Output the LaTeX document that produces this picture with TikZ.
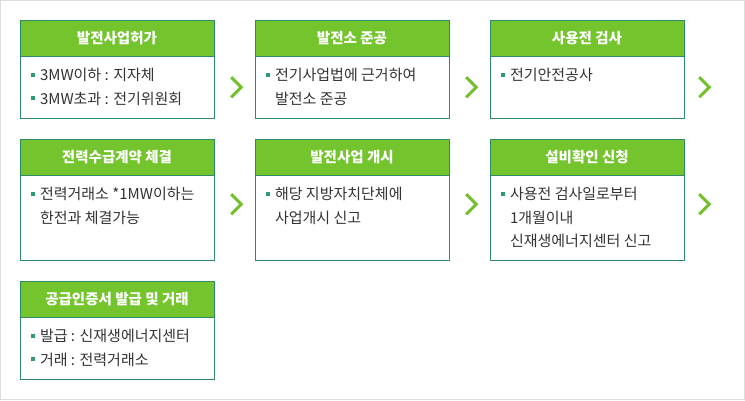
\documentclass[tikz,border=0pt]{standalone}
\usepackage{fontspec}
\setmainfont{Noto Sans CJK KR}
\usepackage{xcolor}
\usepackage{tikz}
\usetikzlibrary{positioning,calc}
\definecolor{headgreen}{HTML}{74C42E}
\definecolor{edgegreen}{HTML}{2F8A66}
\definecolor{dotgreen}{HTML}{2E9C6E}
\definecolor{chevgreen}{HTML}{72C02C}
\definecolor{bodytext}{HTML}{333333}
\definecolor{framegray}{HTML}{DDDDDD}
\newcommand\blt{\textcolor{dotgreen}{\rule[4pt]{4pt}{4pt}}\hspace{5pt}}
\newcommand\contline{\hspace*{9pt}}

\begin{document}
\begin{tikzpicture}[x=1pt, y=-1pt, head/.style={draw=edgegreen, fill=headgreen, minimum width=194pt, minimum height=36pt, inner sep=0pt, text=white, font=\fontsize{14.5}{16}\selectfont\bfseries}, body/.style={draw=edgegreen, fill=white, minimum width=194pt, inner sep=0pt, anchor=north}, itemtext/.style={anchor=north west, inner sep=0pt, align=left, text=bodytext, font=\fontsize{15}{23.5}\selectfont}, chev/.style={draw=chevgreen, line width=3pt, line join=miter}]
\useasboundingbox (0,0) rectangle (745,400);
\draw[framegray, line width=1pt] (0.5,0.5) rectangle (744.5,399.5);
% first row
\node[head] (h1) at (117,38) {발전사업허가};
\node[body, minimum height=62pt] (b1) at (h1.south) {};
\node[itemtext] (t1) at ([xshift=11pt,yshift=-12pt]b1.north west) {\blt 3MW이하 : 지자체\\\blt 3MW초과 : 전기위원회};
\node[head] (h2) at (352,38) {발전소 준공};
\node[body, minimum height=62pt] (b2) at (h2.south) {};
\node[itemtext] (t2) at ([xshift=11pt,yshift=-12pt]b2.north west) {\blt 전기사업법에 근거하여\\\contline 발전소 준공};
\node[head] (h3) at (587,38) {사용전 검사};
\node[body, minimum height=62pt] (b3) at (h3.south) {};
\node[itemtext] (t3) at ([xshift=11pt,yshift=-12pt]b3.north west) {\blt 전기안전공사};
\draw[chev] ([xshift=17pt,yshift=-21pt]b1.north east) -- ++(10,10) -- ++(-10,10);
\draw[chev] ([xshift=17pt,yshift=-21pt]b2.north east) -- ++(10,10) -- ++(-10,10);
\draw[chev] ([xshift=15pt,yshift=-21pt]b3.north east) -- ++(10,10) -- ++(-10,10);
% second row
\node[head] (h4) at (117,157) {전력수급계약 체결};
\node[body, minimum height=85pt] (b4) at (h4.south) {};
\node[itemtext] (t4) at ([xshift=11pt,yshift=-12pt]b4.north west) {\blt 전력거래소 *1MW이하는\\\contline 한전과 체결가능};
\node[head] (h5) at (352,157) {발전사업 개시};
\node[body, minimum height=85pt] (b5) at (h5.south) {};
\node[itemtext] (t5) at ([xshift=11pt,yshift=-12pt]b5.north west) {\blt 해당 지방자치단체에\\\contline 사업개시 신고};
\node[head] (h6) at (587,157) {설비확인 신청};
\node[body, minimum height=85pt] (b6) at (h6.south) {};
\node[itemtext] (t6) at ([xshift=11pt,yshift=-12pt]b6.north west) {\blt 사용전 검사일로부터\\\contline 1개월이내\\\contline 신재생에너지센터 신고};
\draw[chev] ([xshift=17pt,yshift=-19pt]b4.north east) -- ++(10,10) -- ++(-10,10);
\draw[chev] ([xshift=17pt,yshift=-19pt]b5.north east) -- ++(10,10) -- ++(-10,10);
\draw[chev] ([xshift=15pt,yshift=-19pt]b6.north east) -- ++(10,10) -- ++(-10,10);
% third row
\node[head] (h7) at (117,299) {공급인증서 발급 및 거래};
\node[body, minimum height=62pt] (b7) at (h7.south) {};
\node[itemtext] (t7) at ([xshift=11pt,yshift=-12pt]b7.north west) {\blt 발급 : 신재생에너지센터\\\blt 거래 : 전력거래소};
\end{tikzpicture}
\end{document}
